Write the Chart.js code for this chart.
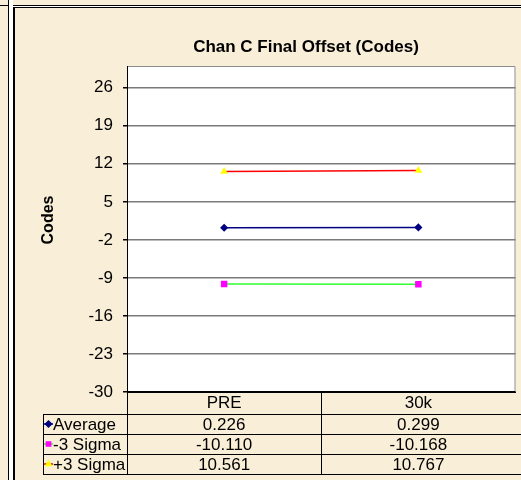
<!DOCTYPE html>
<html>
<head>
<meta charset="utf-8">
<script src="https://cdn.jsdelivr.net/npm/chart.js@4/dist/chart.umd.min.js"></script>
<style>
  html, body { margin: 0; padding: 0; background: #f9eed7; }
  canvas { display: block; }
</style>
</head>
<body>
<canvas id="chart" width="521" height="480"></canvas>
<script>
// chart data
const categories = ['PRE', '30k'];
const seriesNames = ['Average', '-3 Sigma', '+3 Sigma'];
const averageValues = [0.226, 0.299];
const minus3SigmaValues = [-10.110, -10.168];
const plus3SigmaValues = [10.561, 10.767];
const yTicks = [-30, -23, -16, -9, -2, 5, 12, 19, 26];

const FONT = "'Liberation Sans', Arial, sans-serif";
const PAPER = '#f9eed7';

// background, frame, titles and the data table under the plot
const sheetPlugin = {
    id: 'sheet',
    beforeDraw(chart) {
        const ctx = chart.ctx;
        const a = chart.chartArea;
        ctx.save();
        ctx.fillStyle = PAPER;
        ctx.fillRect(0, 0, chart.width, chart.height);
        // double frame lines on the left and top
        ctx.fillStyle = '#fff';
        ctx.fillRect(9, 0, 4, chart.height);
        ctx.fillRect(13, 6, chart.width, 1);
        ctx.fillStyle = '#000';
        ctx.fillRect(8, 0, 1, chart.height);
        ctx.fillRect(0, 5, 8, 1);
        ctx.fillRect(13, 5, chart.width, 1);
        ctx.fillRect(13, 7, chart.width, 1);
        ctx.fillRect(13, 7, 2, chart.height);
        // plot area
        ctx.fillStyle = '#fff';
        ctx.fillRect(a.left, a.top, a.right - a.left, a.bottom - a.top);
        ctx.strokeStyle = '#8c8c8c';
        ctx.lineWidth = 1;
        ctx.beginPath();
        ctx.moveTo(a.left, a.top + 0.5);
        ctx.lineTo(a.right - 0.5, a.top + 0.5);
        ctx.lineTo(a.right - 0.5, a.bottom);
        ctx.stroke();
        // titles
        ctx.fillStyle = '#000';
        ctx.textAlign = 'center';
        ctx.textBaseline = 'middle';
        ctx.font = 'bold 17px ' + FONT;
        ctx.fillText('Chan C Final Offset (Codes)', 306, 47);
        ctx.translate(49, 220);
        ctx.rotate(-Math.PI / 2);
        ctx.font = 'bold 16px ' + FONT;
        ctx.fillText('Codes', 0, 0);
        ctx.restore();
    },
    afterDraw(chart) {
        const ctx = chart.ctx;
        const a = chart.chartArea;
        const x = chart.scales.x;
        const rowTop = [a.bottom, a.bottom + 22, a.bottom + 42, a.bottom + 62];
        const rowH = 20;
        const tableBottom = rowTop[3] + rowH;
        const keyLeft = 43;
        const mid = (x.getPixelForValue(0) + x.getPixelForValue(1)) / 2;

        ctx.save();
        ctx.strokeStyle = '#000';
        ctx.lineWidth = 1;
        ctx.beginPath();
        for (let r = 1; r <= 3; r++) {
            ctx.moveTo(keyLeft, Math.round(rowTop[r]) + 0.5);
            ctx.lineTo(chart.width, Math.round(rowTop[r]) + 0.5);
        }
        ctx.moveTo(keyLeft, tableBottom + 0.5);
        ctx.lineTo(chart.width, tableBottom + 0.5);
        ctx.moveTo(keyLeft + 0.5, rowTop[1]);
        ctx.lineTo(keyLeft + 0.5, tableBottom);
        ctx.moveTo(a.left + 0.5, a.bottom);
        ctx.lineTo(a.left + 0.5, tableBottom);
        ctx.moveTo(Math.round(mid) + 0.5, a.bottom);
        ctx.lineTo(Math.round(mid) + 0.5, tableBottom);
        ctx.stroke();

        ctx.font = '17px ' + FONT;
        ctx.textBaseline = 'middle';
        chart.data.datasets.forEach((ds, i) => {
            const cy = rowTop[i + 1] + rowH / 2 + 1;
            // legend key
            ctx.strokeStyle = ds.borderColor;
            ctx.lineWidth = 1.5;
            ctx.beginPath();
            ctx.moveTo(keyLeft + 1, cy - 1);
            ctx.lineTo(keyLeft + 10, cy - 1);
            ctx.stroke();
            ctx.fillStyle = ds.pointBackgroundColor;
            ctx.strokeStyle = ds.pointBackgroundColor;
            Chart.helpers.drawPoint(ctx, {
                pointStyle: ds.pointStyle, radius: 3,
                rotation: 0, borderWidth: 1
            }, keyLeft + 5.5, cy - 1);
            ctx.fillStyle = '#000';
            ctx.textAlign = 'left';
            ctx.fillText(ds.label, keyLeft + 10, cy);
            // values
            ctx.textAlign = 'center';
            ds.data.forEach((v, j) => {
                ctx.fillText(v.toFixed(3), x.getPixelForValue(j), cy);
            });
        });
        ctx.restore();
    }
};

new Chart(document.getElementById('chart'), {
    type: 'line',
    data: {
        labels: categories,
        datasets: [{
            label: seriesNames[0],
            data: averageValues,
            borderColor: '#000080',
            pointBackgroundColor: '#000080',
            pointBorderColor: '#000080',
            pointStyle: 'rectRot',
            pointRadius: 3,
            borderWidth: 1.5
        }, {
            label: seriesNames[1],
            data: minus3SigmaValues,
            borderColor: '#33ff33',
            pointBackgroundColor: '#ff00ff',
            pointBorderColor: '#ff00ff',
            pointStyle: 'rect',
            pointRadius: 3.5,
            borderWidth: 1.5
        }, {
            label: seriesNames[2],
            data: plus3SigmaValues,
            borderColor: '#ff0000',
            pointBackgroundColor: '#ffff00',
            pointBorderColor: '#ffff00',
            pointStyle: 'triangle',
            pointRadius: 3,
            borderWidth: 1.5
        }]
    },
    options: {
        responsive: false,
        animation: false,
        events: [],
        layout: { padding: { top: 66, right: 0, bottom: 0, left: 0 } },
        plugins: {
            legend: { display: false },
            tooltip: { enabled: false },
            title: { display: false }
        },
        scales: {
            x: {
                offset: true,
                grid: { display: false, drawTicks: false },
                border: { display: true, color: '#000', width: 1 },
                ticks: { color: '#000', font: { family: FONT, size: 17 }, padding: 1, maxRotation: 0 },
                afterFit: (scale) => {
                    scale.height = 88;
                    scale.paddingLeft = 0;
                    scale.paddingRight = 0;
                }
            },
            y: {
                min: -30,
                max: 30,
                afterBuildTicks: (scale) => { scale.ticks = yTicks.map(v => ({ value: v })); },
                grid: {
                    color: (c) => (c.tick && c.tick.value === -30 ? '#000' : '#7a7a7a'),
                    lineWidth: 1.5,
                    tickLength: 4,
                    tickColor: '#000'
                },
                border: { display: true, color: '#000', width: 1 },
                ticks: { color: '#000', font: { family: FONT, size: 17 }, padding: 10 },
                afterFit: (scale) => { scale.width = 127; }
            }
        }
    },
    plugins: [sheetPlugin]
});
</script>
</body>
</html>
